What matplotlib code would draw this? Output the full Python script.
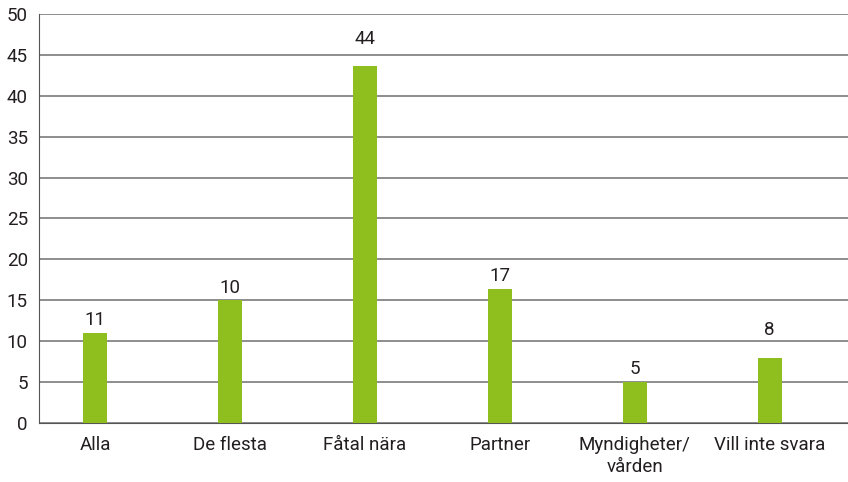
import matplotlib
matplotlib.use("Agg")
import matplotlib.pyplot as plt

# Data
kategorier = ["Alla", "De flesta", "Fåtal nära", "Partner", "Myndigheter/\nvården", "Vill inte svara"]
varden = [11, 15, 43.6, 16.4, 5, 8]
etiketter = ["11", "10", "44", "17", "5", "8"]
# label gap above each bar (points), as placed in the reference
avstand = [5.8, 5.5, 15.8, 6.0, 5.6, 16.2]

plt.rcParams["font.family"] = ["Roboto", "DejaVu Sans"]

fig = plt.figure(figsize=(8.48, 4.82), dpi=100)
ax = fig.add_axes([0.046, 0.1224, 0.954, 0.8486])

x = range(len(kategorier))
staplar = ax.bar(x, varden, width=0.178, color="#8fbe1f", zorder=3)

for s, txt, d in zip(staplar, etiketter, avstand):
    ax.annotate(txt, (s.get_x() + s.get_width() / 2, s.get_height()),
                xytext=(0, d), textcoords="offset points",
                ha="center", va="baseline", fontsize=13.5, color="#231f20")

ax.set_ylim(0, 50)
ax.set_xlim(-0.415, 5.58)
ax.set_yticks(range(0, 51, 5))
ax.set_xticks(list(x))
ax.set_xticklabels(kategorier, linespacing=1.35)

ax.yaxis.grid(True, color="#7a7a7a", linewidth=1.2, zorder=0)
ax.set_axisbelow(True)
ax.tick_params(axis="both", length=0, labelsize=13.5, labelcolor="#231f20")
ax.tick_params(axis="y", pad=8)
ax.tick_params(axis="x", pad=9)

for side in ["top", "right"]:
    ax.spines[side].set_visible(False)
ax.spines["left"].set_color("#555555")
ax.spines["bottom"].set_color("#555555")

plt.savefig("out.png", dpi=100)
